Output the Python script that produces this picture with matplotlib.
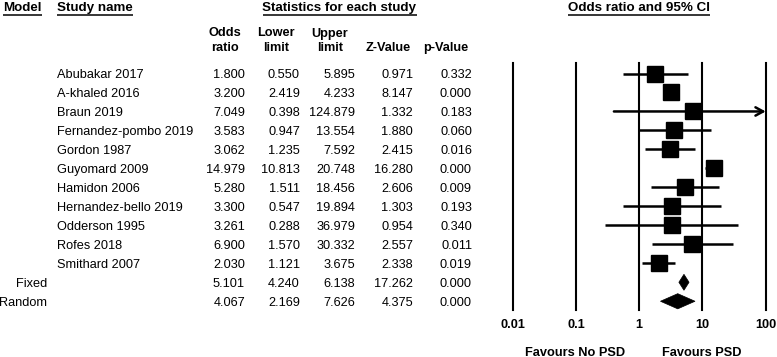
import matplotlib
matplotlib.use('Agg')
import matplotlib.pyplot as plt
from matplotlib.patches import Polygon
from matplotlib.transforms import blended_transform_factory

plt.rcParams['font.family'] = ['Liberation Sans', 'DejaVu Sans']

# ---------------- data ----------------
studies = ['Abubakar 2017', 'A-khaled 2016', 'Braun 2019', 'Fernandez-pombo 2019',
           'Gordon 1987', 'Guyomard 2009', 'Hamidon 2006', 'Hernandez-bello 2019',
           'Odderson 1995', 'Rofes 2018', 'Smithard 2007']
odds = [1.800, 3.200, 7.049, 3.583, 3.062, 14.979, 5.280, 3.300, 3.261, 6.900, 2.030]
lower = [0.550, 2.419, 0.398, 0.947, 1.235, 10.813, 1.511, 0.547, 0.288, 1.570, 1.121]
upper = [5.895, 4.233, 124.879, 13.554, 7.592, 20.748, 18.456, 19.894, 36.979, 30.332, 3.675]
zval = [0.971, 8.147, 1.332, 1.880, 2.415, 16.280, 2.606, 1.303, 0.954, 2.557, 2.338]
pval = [0.332, 0.000, 0.183, 0.060, 0.016, 0.000, 0.009, 0.193, 0.340, 0.011, 0.019]

models = ['Fixed', 'Random']
sum_odds = [5.101, 4.067]
sum_lower = [4.240, 2.169]
sum_upper = [6.138, 7.626]
sum_z = [17.262, 4.375]
sum_p = [0.000, 0.000]

ticks = [0.01, 0.1, 1, 10, 100]
tick_labels = ['0.01', '0.1', '1', '10', '100']

# ---------------- layout ----------------
W, H = 777, 357
fig = plt.figure(figsize=(W / 100, H / 100), dpi=100)
ax0 = fig.add_axes([0, 0, 1, 1])
ax0.set_xlim(0, W)
ax0.set_ylim(H, 0)
ax0.axis('off')

ROW0, DY = 73.5, 18.98
FS = 9.2

def rowy(i):
    return ROW0 + DY * i

# forest axes
px_left, px_right, px_top, px_bot = 512.7, 765.7, 63, 310
ax = fig.add_axes([px_left / W, 1 - px_bot / H, (px_right - px_left) / W, (px_bot - px_top) / H])
ax.set_xscale('log')
ax.set_xlim(ticks[0], ticks[-1])
ax.set_ylim((px_bot - ROW0) / DY, (px_top - ROW0) / DY)
for s in ax.spines.values():
    s.set_visible(False)
ax.set_xticks([])
ax.set_xticks([], minor=True)
ax.set_yticks([])
ax.patch.set_alpha(0)

for t in ticks:
    ax.axvline(t, color='black', lw=1.5, clip_on=False, zorder=1)

n = len(studies)
xmax = ticks[-1]
for i in range(n):
    if upper[i] > xmax:
        ax.annotate('', xy=(xmax, i), xytext=(lower[i], i),
                    arrowprops=dict(arrowstyle='->,head_length=0.55,head_width=0.3',
                                    lw=1.8, color='black', shrinkA=0, shrinkB=0),
                    annotation_clip=False, zorder=2)
    else:
        ax.hlines(i, lower[i], upper[i], color='black', lw=1.8, zorder=2)
ax.plot(odds, list(range(n)), 's', color='black', ms=10.9, zorder=3, clip_on=False)

dh = [0.42, 0.40]
for k in range(len(models)):
    y = n + k
    poly = Polygon([[sum_lower[k], y], [sum_odds[k], y - dh[k]],
                    [sum_upper[k], y], [sum_odds[k], y + dh[k]]],
                   closed=True, facecolor='black', edgecolor='black', lw=0.5, zorder=3)
    ax.add_patch(poly)

# ---------------- texts ----------------
BL = 4.5  # baseline offset from row centre
col_right = [245, 300, 355, 413, 472]
col_centre = [225, 276, 330, 388, 446]

for i in range(n):
    y = rowy(i) + BL
    ax0.text(57, y, studies[i], fontsize=FS, ha='left', va='baseline')
    vals = [odds[i], lower[i], upper[i], zval[i], pval[i]]
    for xr, v in zip(col_right, vals):
        ax0.text(xr, y, f'{v:.3f}', fontsize=FS, ha='right', va='baseline')

for k in range(len(models)):
    y = rowy(n + k) + BL
    ax0.text(47, y, models[k], fontsize=FS, ha='right', va='baseline')
    vals = [sum_odds[k], sum_lower[k], sum_upper[k], sum_z[k], sum_p[k]]
    for xr, v in zip(col_right, vals):
        ax0.text(xr, y, f'{v:.3f}', fontsize=FS, ha='right', va='baseline')

# column headers
hdr1 = ['Odds', 'Lower', 'Upper', '', '']
hdr2 = ['ratio', 'limit', 'limit', 'Z-Value', 'p-Value']
for xc, a, b in zip(col_centre, hdr1, hdr2):
    if a:
        ax0.text(xc, 36.5, a, fontsize=FS, fontweight='bold', ha='center', va='baseline')
    ax0.text(xc, 51, b, fontsize=FS, fontweight='bold', ha='center', va='baseline')

# top headers with underline
top_hdrs = [('Model', 3, 'left'), ('Study name', 57, 'left'),
            ('Statistics for each study', 339.5, 'center'),
            ('Odds ratio and 95% CI', 639.3, 'center')]
hdr_texts = []
for label, x, ha in top_hdrs:
    t = ax0.text(x, 11, label, fontsize=9.6, fontweight='bold', ha=ha, va='baseline')
    hdr_texts.append(t)

# tick labels & favours labels
trans = blended_transform_factory(ax.transData, ax0.transData)
for t, lab in zip(ticks, tick_labels):
    ax0.text(t, 328, lab, transform=trans, fontsize=FS, fontweight='bold',
             ha='center', va='baseline')
ax0.text(575, 355.5, 'Favours No PSD', fontsize=FS, fontweight='bold', ha='center', va='baseline')
ax0.text(702, 355.5, 'Favours PSD', fontsize=FS, fontweight='bold', ha='center', va='baseline')

fig.canvas.draw()
renderer = fig.canvas.get_renderer()
inv = ax0.transData.inverted()
for t in hdr_texts:
    bb = t.get_window_extent(renderer)
    (x0, _), (x1, _) = inv.transform([[bb.x0, 0], [bb.x1, 0]])
    ax0.plot([x0, x1], [14.7, 14.7], color='black', lw=1.1, solid_capstyle='butt')

fig.savefig('out.png', dpi=100)
